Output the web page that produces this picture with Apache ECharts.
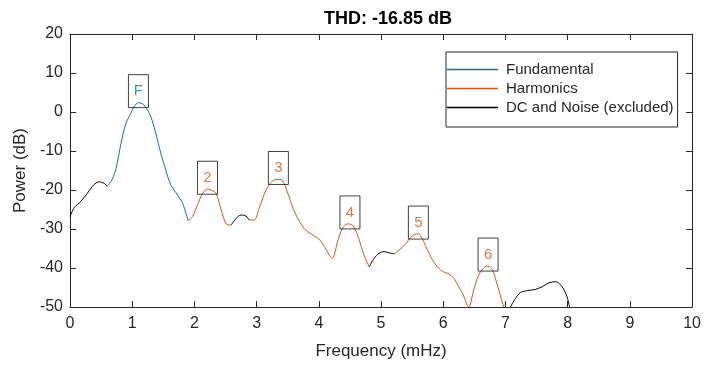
<!DOCTYPE html>
<html>
<head>
<meta charset="utf-8">
<script src="https://cdn.jsdelivr.net/npm/echarts@6/dist/echarts.min.js"></script>
<style>
  html, body { margin: 0; padding: 0; background: #fff; }
  #chart { width: 704px; height: 370px; }
</style>
</head>
<body>
<div id="chart"></div>
<script>
// spectrum segments, [frequency (mHz), power (dB)]
const noiseLow = [[0, -26.8], [0.07, -24.5], [0.17, -23], [0.28, -20.8], [0.38, -18.7], [0.47, -17.9], [0.55, -18.3], [0.6, -19.1]];
const fundamental = [[0.6, -19.1], [0.68, -17.2], [0.74, -14.5], [0.82, -8], [0.9, -2.9], [0.98, -0.3], [1.03, 1.4], [1.1, 2.4], [1.17, 2.05], [1.23, 0.9], [1.3, -1.2], [1.38, -5.5], [1.46, -10.6], [1.54, -14.9], [1.62, -18.7], [1.73, -21.3], [1.81, -23.4], [1.9, -27.9]];
const harmonic2 = [[1.9, -27.9], [1.97, -26.8], [2.05, -23.8], [2.13, -20.9], [2.21, -19.8], [2.29, -20.2], [2.35, -20.9], [2.43, -25.1], [2.51, -28.7], [2.59, -29]];
const noiseMid1 = [[2.59, -29], [2.67, -27.3], [2.75, -26.4], [2.83, -26.7], [2.88, -27.7]];
const harmonics34 = [[2.88, -27.7], [2.96, -27.7], [3.04, -24.7], [3.15, -20], [3.23, -18.1], [3.31, -17.3], [3.39, -17.3], [3.44, -18.3], [3.52, -21.7], [3.61, -25.6], [3.69, -28.1], [3.79, -30.3], [3.9, -31.5], [4.01, -32.7], [4.09, -34.5], [4.17, -36.7], [4.22, -37.5], [4.3, -33.3], [4.38, -29.8], [4.46, -28.7], [4.54, -29], [4.62, -31.5], [4.7, -35.4], [4.76, -38], [4.81, -39.7]];
const noiseMid2 = [[4.81, -39.7], [4.89, -37.5], [4.97, -36.2], [5.05, -35.8], [5.13, -36.1], [5.21, -36.4]];
const harmonics56 = [[5.21, -36.4], [5.29, -35.4], [5.4, -33.7], [5.48, -32.1], [5.56, -31.3], [5.61, -31.3], [5.66, -32.4], [5.77, -36.2], [5.88, -39.2], [5.99, -40.9], [6.09, -41.5], [6.17, -42.6], [6.2, -43.5], [6.31, -46.5], [6.41, -50], [6.49, -45.6], [6.57, -41.8], [6.66, -39.8], [6.72, -39.5], [6.79, -40.5], [6.87, -44.4], [6.97, -50]];
const noiseHigh = [[7.08, -50], [7.16, -47.8], [7.24, -46.3], [7.35, -45.8], [7.48, -45.5], [7.59, -44.8], [7.7, -43.8], [7.81, -43.5], [7.91, -44.8], [7.99, -47.4], [8.03, -50]];

// peak labels
const peakText = ['F', '2', '3', '4', '5', '6'];
const peakFreq = [1.1, 2.21, 3.35, 4.5, 5.6, 6.72];
const peakPower = [2.4, -19.8, -17.3, -28.7, -31.3, -39.5];

const legendNames = ['Fundamental', 'Harmonics', 'DC and Noise (excluded)'];
const xTicks = [0, 10, 1];
const yTicks = [-50, 20, 10];
const titleText = 'THD: -16.85 dB';

const FONT = '"Liberation Sans", Arial, Helvetica, sans-serif';
const INK = '#262626';
const BLUE = '#0072BD';
const ORANGE = '#D95319';
const legendColors = [BLUE, ORANGE, '#000'];

const chart = echarts.init(document.getElementById('chart'), null, { renderer: 'canvas' });

function seg(name, data, color) {
  return {
    name, type: 'line', data, color,
    smooth: 0.3, symbol: 'none', clip: true,
    lineStyle: { width: 1, color }, z: 3,
  };
}

function boxAxisX(position, showLabel) {
  return {
    type: 'value', position, min: xTicks[0], max: xTicks[1], interval: xTicks[2],
    axisLine: { show: true, onZero: false, lineStyle: { color: INK, width: 1 } },
    axisTick: { show: true, inside: true, length: 6, lineStyle: { color: INK } },
    axisLabel: { show: showLabel, color: INK, fontSize: 16, fontFamily: FONT, margin: 9 },
    splitLine: { show: false },
  };
}

function boxAxisY(position, showLabel) {
  return {
    type: 'value', position, min: yTicks[0], max: yTicks[1], interval: yTicks[2],
    axisLine: { show: true, onZero: false, lineStyle: { color: INK, width: 1 } },
    axisTick: { show: true, inside: true, length: 6, lineStyle: { color: INK } },
    axisLabel: { show: showLabel, color: INK, fontSize: 16, fontFamily: FONT, margin: 7 },
    splitLine: { show: false },
  };
}

const xMain = boxAxisX('bottom', true);
xMain.name = 'Frequency (mHz)';
xMain.nameLocation = 'middle';
xMain.nameGap = 36;
xMain.nameTextStyle = { color: INK, fontSize: 17, fontFamily: FONT };

const yMain = boxAxisY('left', true);
yMain.name = 'Power (dB)';
yMain.nameLocation = 'middle';
yMain.nameGap = 38;
yMain.nameTextStyle = { color: INK, fontSize: 17, fontFamily: FONT };

chart.setOption({
  backgroundColor: '#fff',
  animation: false,
  textStyle: { fontFamily: FONT },
  title: {
    text: titleText,
    left: 383, top: 5, textAlign: 'center',
    textStyle: { color: '#000', fontSize: 18, fontWeight: 'bold', fontFamily: FONT },
  },
  legend: {
    data: legendNames.map((name, i) => ({
      name,
      icon: 'rect',
      itemStyle: { color: legendColors[i], borderWidth: 0 },
    })),
    orient: 'vertical',
    left: 446, top: 52,
    padding: [9, 4, 11, 1],
    itemGap: 2,
    itemWidth: 51, itemHeight: 1.3,
    borderColor: INK, borderWidth: 1, borderRadius: 0,
    backgroundColor: '#fff',
    textStyle: { color: INK, fontSize: 15, lineHeight: 17, fontFamily: FONT, padding: [0, 0, 0, 3] },
  },
  grid: { left: 70, right: 10, top: 34, bottom: 63 },
  xAxis: [xMain, boxAxisX('top', false)],
  yAxis: [yMain, boxAxisY('right', false)],
  series: [
    seg('DC and Noise (excluded)', noiseLow, '#000'),
    seg('Fundamental', fundamental, BLUE),
    seg('Harmonics', harmonic2, ORANGE),
    seg('DC and Noise (excluded)', noiseMid1, '#000'),
    seg('Harmonics', harmonics34, ORANGE),
    seg('DC and Noise (excluded)', noiseMid2, '#000'),
    seg('Harmonics', harmonics56, ORANGE),
    seg('DC and Noise (excluded)', noiseHigh, '#000'),
    {
      name: 'peaks', type: 'scatter', symbolSize: 0, z: 5,
      data: peakFreq.map((f, i) => ({
        value: [f, peakPower[i]],
        label: { color: i === 0 ? BLUE : ORANGE },
      })),
      label: {
        show: true, position: 'top', distance: -5,
        formatter: (p) => peakText[p.dataIndex],
        fontSize: 15, fontFamily: FONT,
        width: 20, height: 33, lineHeight: 33, align: 'center',
        borderColor: '#111', borderWidth: 1, padding: 0,
      },
    },
  ],
});
</script>
</body>
</html>
